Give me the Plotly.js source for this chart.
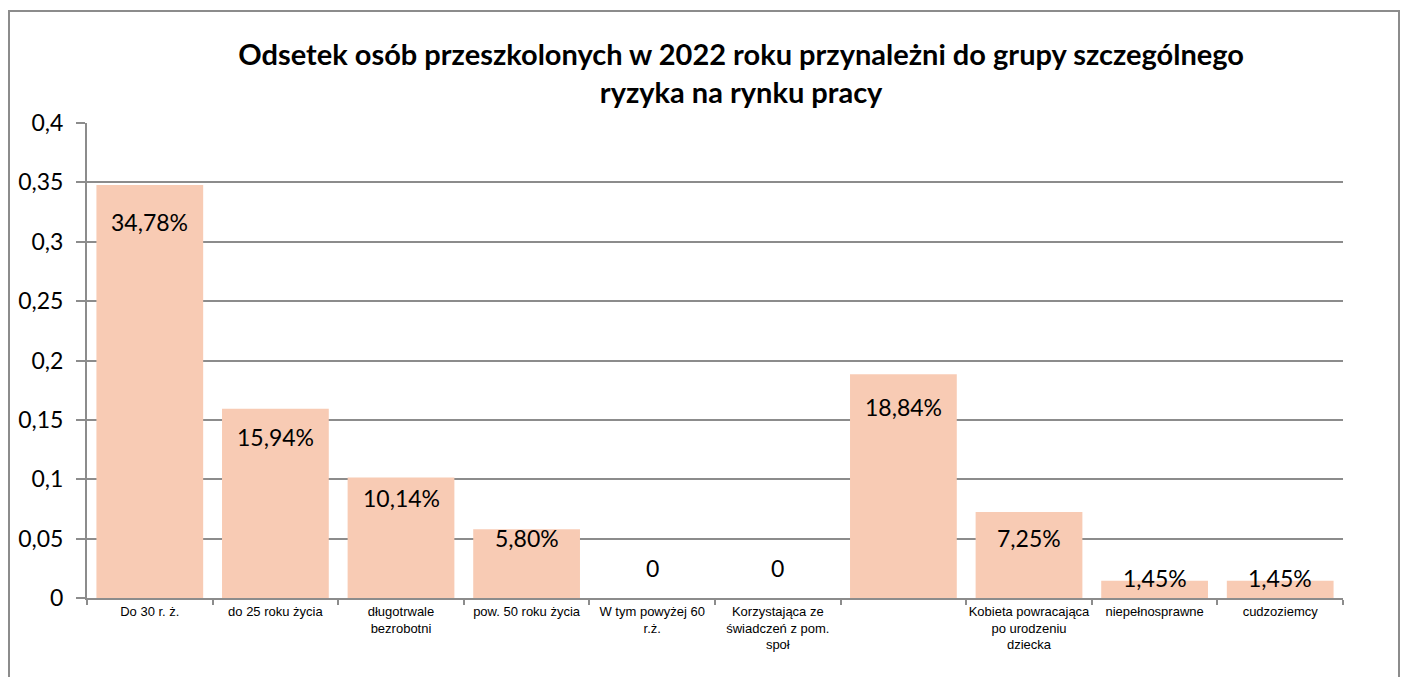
<!DOCTYPE html>
<html>
<head>
<meta charset="utf-8">
<script src="https://cdn.plot.ly/plotly-3.0.1.min.js"></script>
<style>
  html, body { margin: 0; padding: 0; background: #fff; }
  #wrap { position: relative; width: 1401px; height: 677px; overflow: hidden; }
  #chart { position: absolute; left: 0; top: 0; width: 1401px; height: 677px; }
  #frame { position: absolute; left: 8px; top: 10px; width: 1388px; height: 700px;
           border: 2px solid #8c8c8c; pointer-events: none; }
</style>
</head>
<body>
<div id="wrap">
  <div id="chart"></div>
  <div id="frame"></div>
</div>
<script>
// ---- data ----
const categories = [
  "Do 30 r. ż.",
  "do 25 roku życia",
  "długotrwale<br>bezrobotni",
  "pow. 50 roku życia",
  "W tym powyżej 60<br>r.ż.",
  "Korzystająca ze<br>świadczeń z pom.<br>społ",
  " ",
  "Kobieta powracająca<br>po urodzeniu<br>dziecka",
  "niepełnosprawne",
  "cudzoziemcy"
];
const values = [0.3478, 0.1594, 0.1014, 0.0580, 0, 0, 0.1884, 0.0725, 0.0145, 0.0145];
const yTickVals = [0, 0.05, 0.1, 0.15, 0.2, 0.25, 0.3, 0.35, 0.4];
const titleText = "Odsetek osób przeszkolonych w 2022 roku przynależni do grupy szczególnego<br>ryzyka na rynku pracy";

// ---- label styling (pixel offsets of data labels from bar top) ----
const labelShift = [-37, -28, -20, -9, 30, 30, -33, -26, 3, 3];

function fmtLabel(v) {
  if (v === 0) return "0";
  return (v * 100).toFixed(2).replace(".", ",") + "%";
}

const trace = {
  type: "bar",
  x: categories,
  y: values,
  marker: { color: "#F8CBB4", line: { width: 0 } },
  width: 0.85,
  hoverinfo: "none"
};

const annotations = categories.map((c, i) => ({
  x: c, y: values[i], xref: "x", yref: "y",
  text: fmtLabel(values[i]),
  showarrow: false,
  yanchor: "middle",
  yshift: labelShift[i],
  font: { family: "Lato, 'Noto Sans', sans-serif", size: 23, color: "#000" }
}));

const layout = {
  width: 1401, height: 677,
  margin: { l: 87, r: 58, t: 123, b: 79 },
  paper_bgcolor: "#fff", plot_bgcolor: "#fff",
  separators: ", ",
  showlegend: false,
  title: {
    text: titleText,
    font: { family: "Lato, 'Noto Sans', sans-serif", size: 29, color: "#000", weight: "bold" },
    xref: "container", x: 0.529, xanchor: "center",
    yref: "container", y: 1 - 65 / 677, yanchor: "top"
  },
  xaxis: {
    type: "category",
    tickson: "boundaries",
    ticks: "outside", ticklen: 5, tickwidth: 2, tickcolor: "#8c8c8c",
    showline: true, linecolor: "#8c8c8c", linewidth: 2,
    showgrid: false,
    tickfont: { family: "'Liberation Sans', Arial, sans-serif", size: 13, color: "#000" },
    tickangle: 0,
    fixedrange: true
  },
  yaxis: {
    range: [0, 0.4],
    tickvals: yTickVals,
    ticks: "outside", ticklen: 9, tickwidth: 2, tickcolor: "#8c8c8c",
    ticklabelstandoff: 8,
    showline: true, linecolor: "#8c8c8c", linewidth: 2,
    showgrid: true, gridcolor: "#8c8c8c", gridwidth: 2,
    zeroline: false,
    tickfont: { family: "Lato, 'Noto Sans', sans-serif", size: 23, color: "#000" },
    fixedrange: true
  },
  annotations: annotations
};

Plotly.newPlot("chart", [trace], layout, { displayModeBar: false, staticPlot: true });
</script>
</body>
</html>
